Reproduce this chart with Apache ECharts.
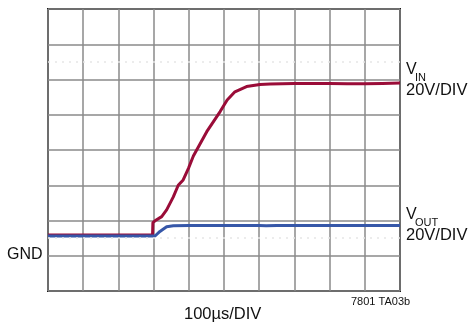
<!DOCTYPE html>
<html>
<head>
<meta charset="utf-8">
<script src="https://cdn.jsdelivr.net/npm/echarts@6/dist/echarts.min.js"></script>
<style>
  html, body { margin: 0; padding: 0; background: #fff; }
  #scope { width: 471px; height: 328px; }
</style>
</head>
<body>
<div id="scope"></div>
<script>
// time in µs (100µs/DIV), level in screen divisions from the bottom edge
let vinTime = [0, 297, 298, 304, 323, 337, 356, 370, 384, 399, 413, 451, 489, 509, 531, 564, 602, 631, 700, 750, 800, 850, 900, 950, 1000];
let vinLevel = [1.59, 1.59, 1.94, 1.99, 2.11, 2.30, 2.67, 3.00, 3.15, 3.48, 3.83, 4.52, 5.09, 5.42, 5.65, 5.80, 5.86, 5.87, 5.89, 5.89, 5.89, 5.88, 5.88, 5.89, 5.90];
let voutTime = [0, 304, 318, 337, 356, 400, 500, 600, 620, 650, 700, 800, 900, 1000];
let voutLevel = [1.56, 1.56, 1.69, 1.82, 1.85, 1.86, 1.86, 1.86, 1.85, 1.86, 1.86, 1.86, 1.86, 1.86];
let dottedLevels = [1.5, 6.5];

let font = 'Liberation Sans, Arial, sans-serif';

function pairs(xs, ys) {
  return xs.map(function (x, i) { return [x, ys[i]]; });
}

let myChart = echarts.init(document.getElementById('scope'), null, { renderer: 'canvas' });
let option = {
  animation: false,
  grid: {
    left: 48, right: 71, top: 9, bottom: 37,
    show: true,
    borderColor: '#1a1a1a',
    borderWidth: 2
  },
  xAxis: {
    type: 'value',
    min: 0, max: 1000, interval: 100,
    axisLine: { show: false },
    axisTick: { show: false },
    axisLabel: { show: false },
    splitLine: { lineStyle: { color: '#8a8a8a', width: 1.5 } }
  },
  yAxis: {
    type: 'value',
    min: 0, max: 8, interval: 1,
    axisLine: { show: false },
    axisTick: { show: false },
    axisLabel: { show: false },
    splitLine: { lineStyle: { color: '#8a8a8a', width: 1.5 } }
  },
  series: [{
    name: 'VIN',
    type: 'line',
    data: pairs(vinTime, vinLevel),
    showSymbol: false,
    lineStyle: { color: '#9a0c38', width: 3 },
    markLine: {
      silent: true,
      symbol: 'none',
      label: { show: false },
      lineStyle: { color: '#e6e6e6', type: [2, 5], width: 1.5 },
      data: dottedLevels.map(function (v) { return { yAxis: v }; })
    }
  }, {
    name: 'VOUT',
    type: 'line',
    data: pairs(voutTime, voutLevel),
    showSymbol: false,
    lineStyle: { color: '#3657a8', width: 3 }
  }],
  graphic: [
    { type: 'text', left: 406, top: 62, style: { text: 'V', font: '16px ' + font, fill: '#111' } },
    { type: 'text', left: 415, top: 72, style: { text: 'IN', font: '11px ' + font, fill: '#111' } },
    { type: 'text', left: 406, top: 82, style: { text: '20V/DIV', font: '16.5px ' + font, fill: '#111' } },
    { type: 'text', left: 406, top: 207, style: { text: 'V', font: '16px ' + font, fill: '#111' } },
    { type: 'text', left: 415, top: 217, style: { text: 'OUT', font: '11px ' + font, fill: '#111' } },
    { type: 'text', left: 406, top: 227, style: { text: '20V/DIV', font: '16.5px ' + font, fill: '#111' } },
    { type: 'text', left: 7, top: 247, style: { text: 'GND', font: '16px ' + font, fill: '#111' } },
    { type: 'text', left: 184, top: 306, style: { text: '100µs/DIV', font: '16.5px ' + font, fill: '#111' } },
    { type: 'text', left: 351, top: 296, style: { text: '7801 TA03b', font: '11px ' + font, fill: '#111' } }
  ]
};
myChart.setOption(option);
</script>
</body>
</html>
